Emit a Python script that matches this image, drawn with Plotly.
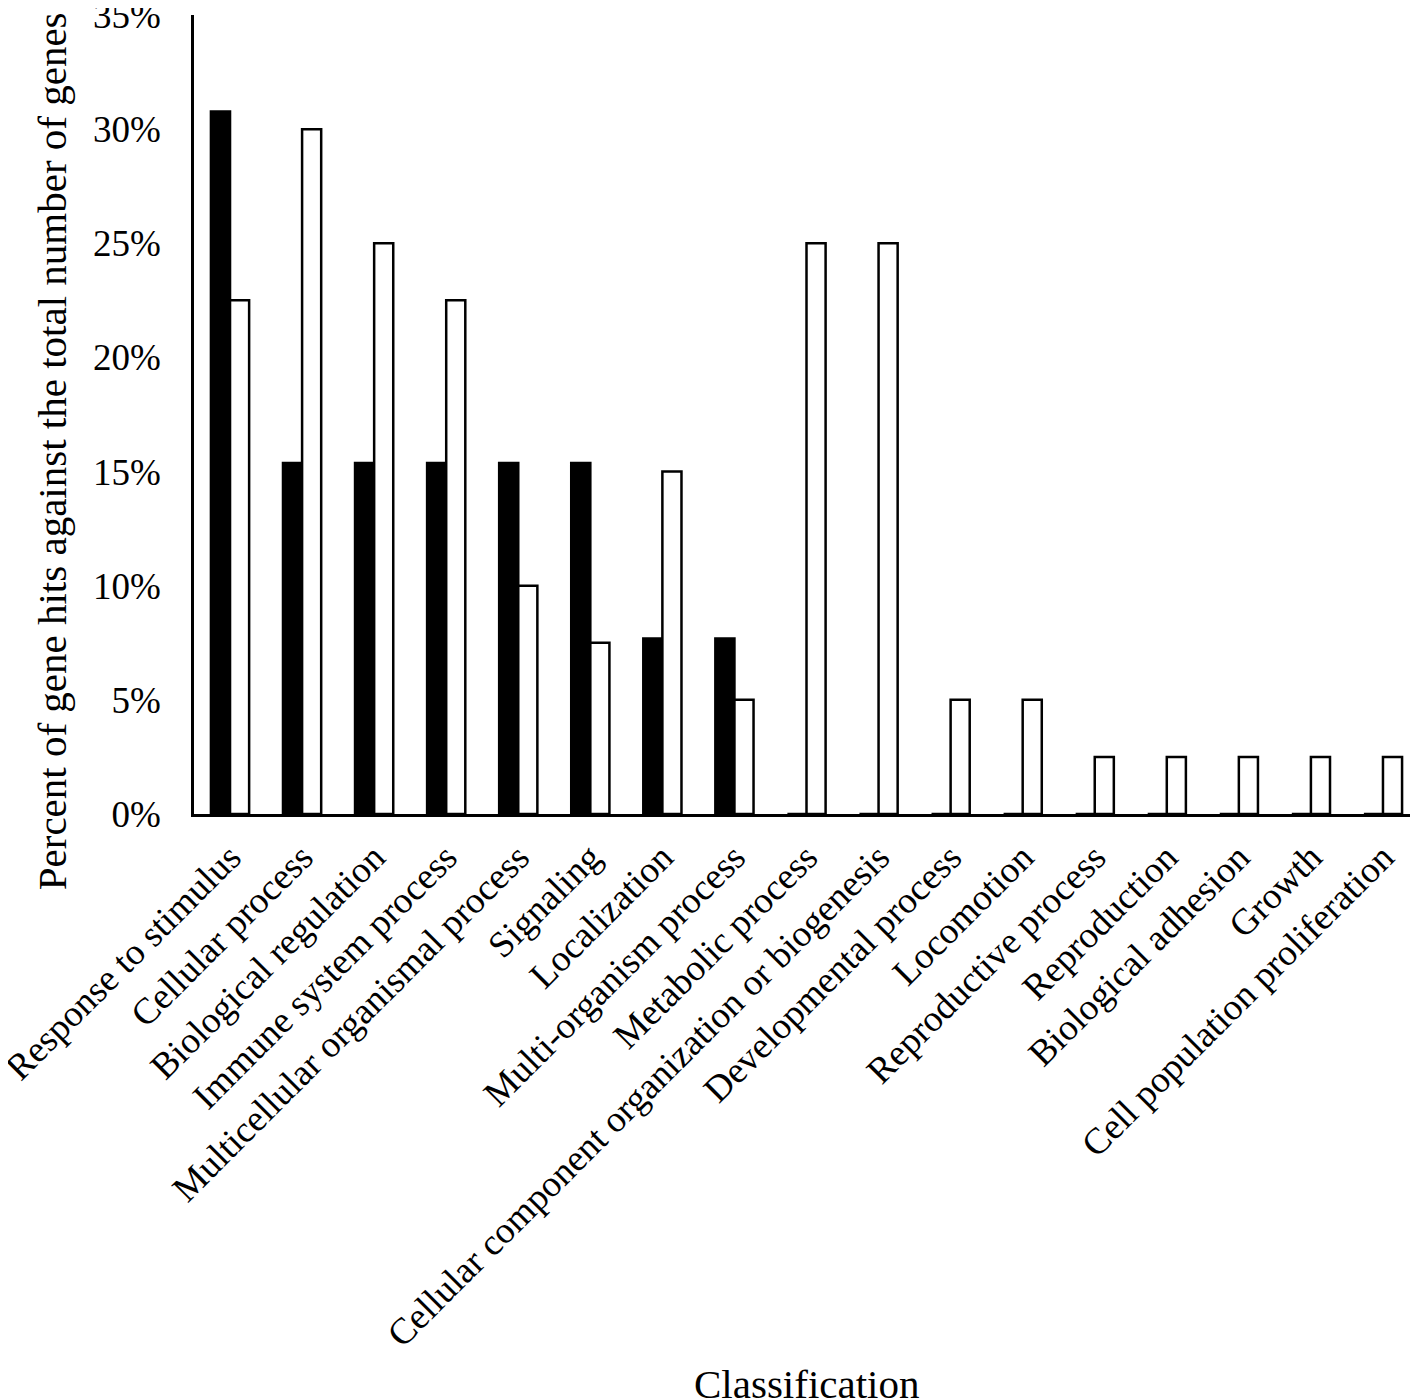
import plotly.graph_objects as go

categories = [
    "Response to stimulus", "Cellular process", "Biological regulation",
    "Immune system process", "Multicellular organismal process", "Signaling",
    "Localization", "Multi-organism process", "Metabolic process",
    "Cellular component organization or biogenesis", "Developmental process",
    "Locomotion", "Reproductive process", "Reproduction", "Biological adhesion",
    "Growth", "Cell population proliferation",
]
black_series = [30.77, 15.38, 15.38, 15.38, 15.38, 15.38, 7.69, 7.69,
                0, 0, 0, 0, 0, 0, 0, 0, 0]
white_series = [22.5, 30.0, 25.0, 22.5, 10.0, 7.5, 15.0, 5.0,
                25.0, 25.0, 5.0, 5.0, 2.5, 2.5, 2.5, 2.5, 2.5]
y_ticks = [0, 5, 10, 15, 20, 25, 30, 35]
y_tick_labels = [f"{v}%" for v in y_ticks]

FONT = "Liberation Serif"

fig = go.Figure()
fig.add_trace(go.Bar(x=categories, y=black_series, marker=dict(color="black", line=dict(color="black", width=2.5)), showlegend=False))
fig.add_trace(go.Bar(x=categories, y=white_series, marker=dict(color="white", line=dict(color="black", width=2.5)), showlegend=False))

fig.update_layout(
    width=1411, height=1392,
    margin=dict(l=186, r=0, t=7, b=586),
    paper_bgcolor="white", plot_bgcolor="white",
    barmode="group", bargap=0.47, bargroupgap=0,
    font=dict(family=FONT, size=37, color="black"),
)
fig.update_xaxes(
    tickangle=-45, showline=True, linecolor="black", linewidth=2.5,
    showgrid=False, ticks="", ticklabelstandoff=4, automargin=False,
    tickfont=dict(family=FONT, size=37, color="black"),
)
fig.update_yaxes(
    range=[0, 35], tickvals=y_ticks, ticktext=y_tick_labels,
    showline=True, linecolor="black", linewidth=2.5, showgrid=False,
    zeroline=False, ticks="", ticklabelstandoff=23, automargin=False,
    ticklabeloverflow="allow",
    tickfont=dict(family=FONT, size=37, color="black"),
)
fig.add_annotation(text="Classification", xref="paper", yref="paper",
                   x=0.5, y=-0.713, showarrow=False, yanchor="middle",
                   font=dict(family=FONT, size=41, color="black"))
fig.add_annotation(text="Percent of gene hits against the total number of genes",
                   xref="paper", yref="paper", x=-0.1159, y=0.454, textangle=-90,
                   showarrow=False, xanchor="center", yanchor="middle",
                   font=dict(family=FONT, size=41, color="black"))
fig.write_html("out.html")
